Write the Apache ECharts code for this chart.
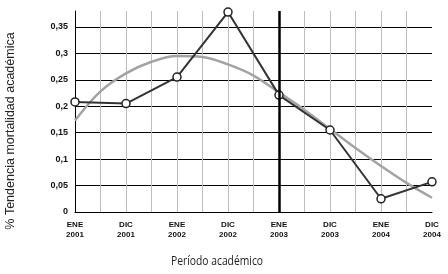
<!DOCTYPE html>
<html>
<head>
<meta charset="utf-8">
<script src="https://cdn.jsdelivr.net/npm/echarts@6/dist/echarts.min.js"></script>
<style>html,body{margin:0;padding:0;background:#fff;}#c{width:448px;height:274px;}</style>
</head>
<body>
<div id="c"></div>
<script>
// half-step positions along the x axis (index 0..14); labels only at even steps
const periods = ['ENE\n2001','','DIC\n2001','','ENE\n2002','','DIC\n2002','','ENE\n2003','','DIC\n2003','','ENE\n2004','','DIC\n2004'];
// observed values (at even steps only)
const observed = [0.208, null, 0.205, null, 0.255, null, 0.378, null, 0.221, null, 0.155, null, 0.025, null, 0.057];
// trend curve read at each half step
const trend = [0.173, 0.228, 0.262, 0.284, 0.295, 0.293, 0.279, 0.258, 0.226, 0.193, 0.157, 0.121, 0.087, 0.055, 0.027];
const yTicks = [0, 0.05, 0.1, 0.15, 0.2, 0.25, 0.3, 0.35];
const xTitle = 'Período académico';
const yTitle = '% Tendencia mortalidad académica';

const chart = echarts.init(document.getElementById('c'), null, {renderer: 'canvas'});
chart.setOption({
  animation: false,
  backgroundColor: '#fff',
  grid: {left: 75, right: 16, top: 11, bottom: 62, containLabel: false, outerBoundsMode: 'none'},
  graphic: [
    {
      type: 'text',
      x: 217, y: 262,
      scaleX: 0.86,
      style: {text: xTitle, fontFamily: 'Open Sans', fontSize: 12, fill: '#222', align: 'center', verticalAlign: 'middle'}
    },
    {
      type: 'text',
      x: 11, y: 131,
      rotation: Math.PI / 2,
      style: {text: yTitle, fontFamily: 'Liberation Sans, Arial', fontSize: 12.5, fill: '#222', align: 'center', verticalAlign: 'middle'}
    }
  ],
  xAxis: {
    type: 'category',
    data: periods,
    boundaryGap: false,
    axisLine: {show: true, lineStyle: {color: '#000', width: 1}},
    axisTick: {show: false},
    axisLabel: {
      interval: 0,
      margin: 8,
      fontFamily: 'Liberation Sans Narrow, Liberation Sans, Arial',
      fontWeight: 'bold',
      fontSize: 8,
      lineHeight: 10,
      color: '#111'
    },
    splitLine: {
      show: true,
      interval: function (idx) { return idx !== 0 && idx !== 8 && idx !== 14; },
      lineStyle: {color: '#bdbdbd', width: 1}
    }
  },
  yAxis: {
    type: 'value',
    min: 0,
    max: 0.38,
    interval: 0.05,
    axisLine: {show: true, lineStyle: {color: '#000', width: 1}},
    axisTick: {show: false},
    axisLabel: {
      margin: 7,
      fontFamily: 'Liberation Sans, Arial',
      fontWeight: 'bold',
      fontSize: 9,
      color: '#111',
      showMaxLabel: false,
      formatter: function (v) {
        const t = yTicks.find(x => Math.abs(x - v) < 1e-9);
        if (t === undefined) return '';
        return String(t).replace('.', ',');
      }
    },
    splitLine: {show: true, showMaxLine: false, lineStyle: {color: '#000', width: 1}}
  },
  series: [
    {
      type: 'line',
      data: trend,
      smooth: 0.35,
      symbol: 'none',
      lineStyle: {color: '#a3a3a3', width: 2.5},
      z: 2,
      markLine: {
        silent: true,
        symbol: ['none', 'none'],
        label: {show: false},
        lineStyle: {color: '#000', width: 2.5, type: 'solid'},
        data: [{xAxis: 8}]
      }
    },
    {
      type: 'line',
      data: observed,
      connectNulls: true,
      symbol: 'circle',
      symbolSize: 8,
      showSymbol: true,
      itemStyle: {color: '#fff', borderColor: '#222', borderWidth: 1.5},
      lineStyle: {color: '#333', width: 2},
      z: 3
    }
  ]
});
</script>
</body>
</html>
